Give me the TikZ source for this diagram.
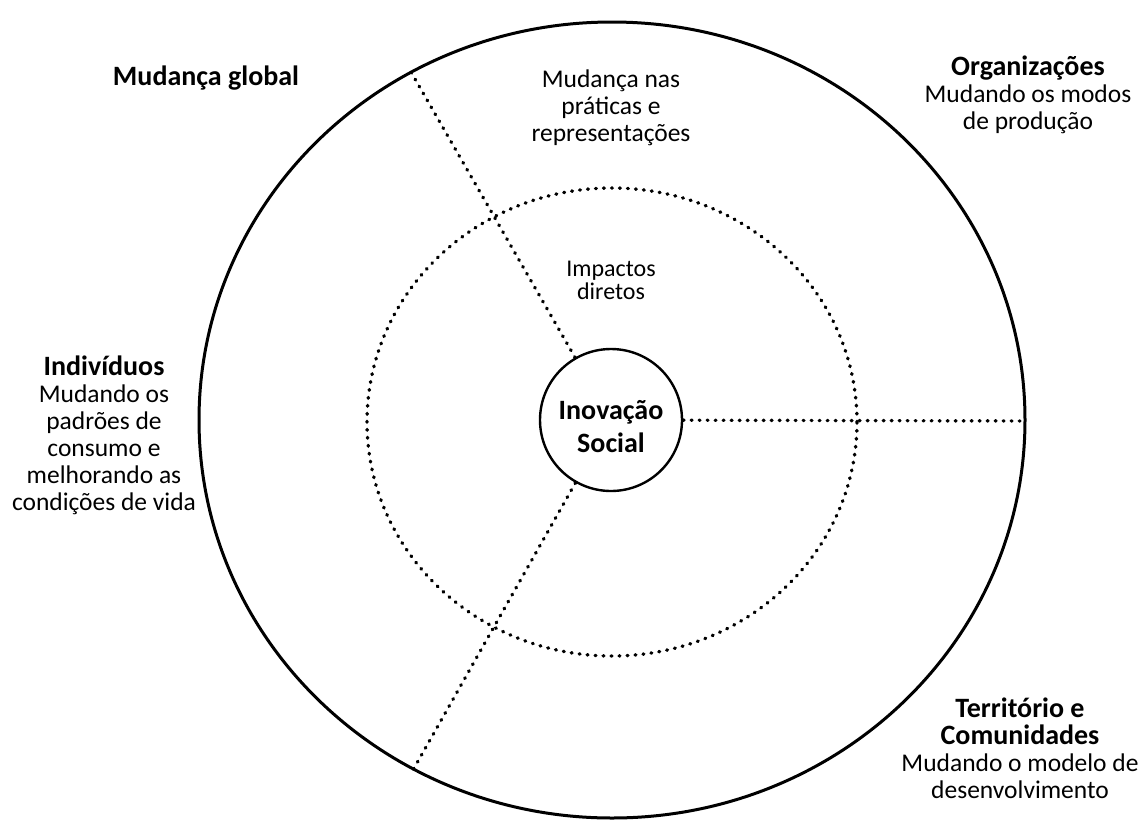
\documentclass[tikz,border=0pt]{standalone}
\usepackage{fontspec}
\setmainfont{Carlito}
\newcommand{\bigb}[1]{{\fontsize{28}{27}\selectfont\bfseries #1}}
\begin{document}
\begin{tikzpicture}[x=1pt,y=-1pt,
  solidring/.style={draw, line width=3pt},
  dotline/.style={draw, line width=3.4pt, line cap=round, dash pattern=on 0.8pt off 7.2pt},
  lbl/.style={align=center, inner sep=0pt, font=\fontsize{25.5}{27}\selectfont},
  smalllbl/.style={align=center, inner sep=0pt, font=\fontsize{24}{23}\selectfont},
  core/.style={circle, draw, line width=2.4pt, minimum size=142pt, inner sep=0pt},
  coretext/.style={align=center, inner sep=0pt, font=\bfseries\fontsize{28}{33}\selectfont}
]
\useasboundingbox (0,0) rectangle (1141,820);
\fill[white] (0,0) rectangle (1141,820);
% rings
\draw[solidring] (612,420) ellipse [x radius=413pt, y radius=398pt];
\draw[dotline] (612,422) ellipse [x radius=245pt, y radius=234pt];
% centre
\node[core] (inov) at (611,420) {};
\node[coretext] (inovt) at (611,427) {Inovação\\Social};
% spoke ends on outer ring
\coordinate (o1) at (411,72);
\coordinate (o2) at (413,770);
\coordinate (o3) at (1025,421);
\draw[dotline] (inov) -- (o1);
\draw[dotline] (inov) -- (o2);
\draw[dotline] (inov) -- (o3);
% labels
\node[lbl] (mg) at (206,78) {\bigb{Mudança global}};
\node[lbl] (mp) at (611,108) {Mudança nas\\práticas e\\representações};
\node[lbl] (org) at (1028,95) {\bigb{Organizações}\\Mudando os modos\\de produção};
\node[smalllbl] (imp) at (611,280) {Impactos\\diretos};
\node[lbl] (ind) at (104,435) {\bigb{Indivíduos}\\Mudando os\\padrões de\\consumo e\\melhorando as\\condições de vida};
\node[lbl] (ter) at (1020,748) {\bigb{Território e}\\\bigb{Comunidades}\\Mudando o modelo de\\desenvolvimento};
\end{tikzpicture}
\end{document}
